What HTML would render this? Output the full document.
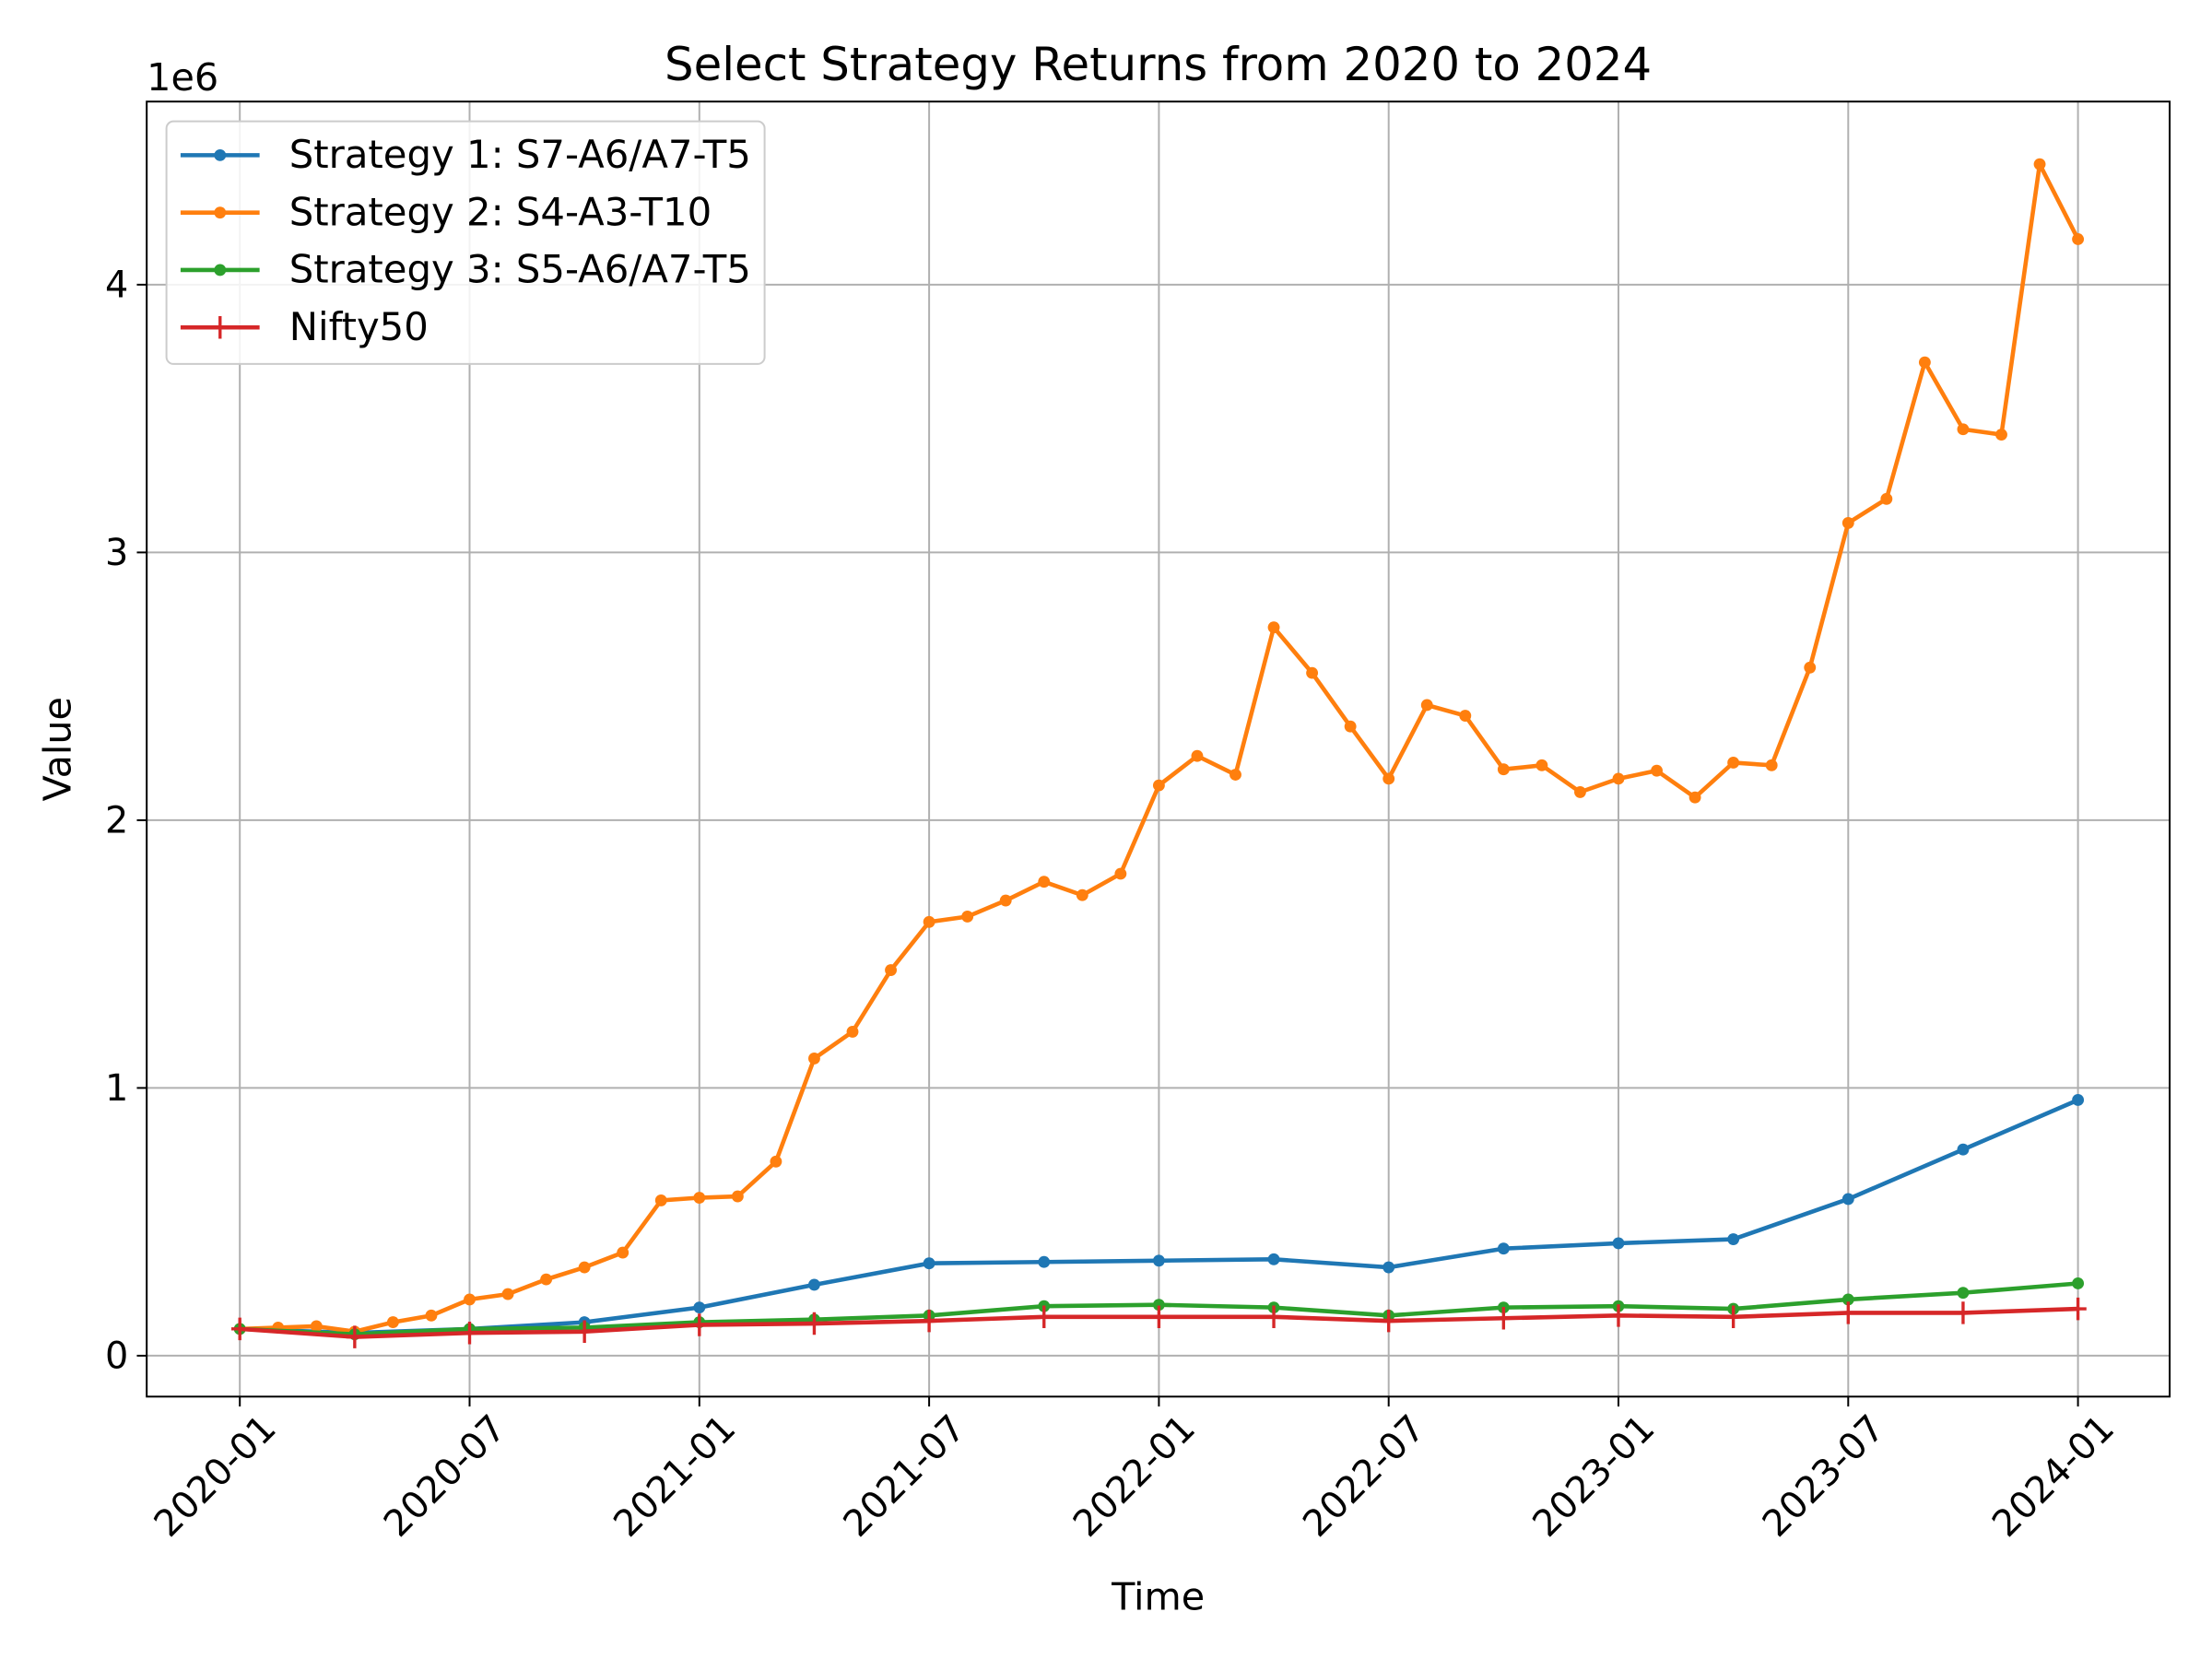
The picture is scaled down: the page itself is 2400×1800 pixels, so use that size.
<!DOCTYPE html>
<html><head><meta charset="utf-8"><style>
html,body{margin:0;padding:0;background:#fff;}
svg{display:block;font-family:"DejaVu Sans","Liberation Sans",sans-serif;}
</style></head><body>
<svg id="chart" width="2400" height="1800" viewBox="0 0 1568 1176" xmlns="http://www.w3.org/2000/svg">
<rect width="1568" height="1176" fill="#fff"/>
<g id="grid"></g>
<g id="series"></g>
<rect x="104" y="72" width="1434" height="918" fill="none" stroke="#000" stroke-width="1.3"/>
<g id="ticks"></g>
<text x="821" y="57" font-size="32.5" text-anchor="middle">Select Strategy Returns from 2020 to 2024</text>
<text x="104" y="64" font-size="27">1e6</text>
<text x="821" y="1141" font-size="27" text-anchor="middle">Time</text>
<text x="0" y="0" font-size="27" text-anchor="middle" transform="translate(50,531) rotate(-90)">Value</text>
<g id="legend"></g>
</svg>
<script>
const monthLabels = ["2020-01","2020-07","2021-01","2021-07","2022-01","2022-07","2023-01","2023-07","2024-01"];
const monthLabelIdx = [0,6,12,18,24,30,36,42,48];
const yTicks = [0,1,2,3,4];
const orangeMonths = [0,1,2,3,4,5,6,7,8,9,10,11,12,13,14,15,16,17,18,19,20,21,22,23,24,25,26,27,28,29,30,31,32,33,34,35,36,37,38,39,40,41,42,43,44,45,46,47,48];
const strategy2 = [0.10,0.105,0.11,0.09,0.125,0.15,0.21,0.23,0.285,0.33,0.385,0.58,0.59,0.595,0.725,1.11,1.21,1.44,1.62,1.64,1.70,1.77,1.72,1.80,2.13,2.24,2.17,2.72,2.55,2.35,2.155,2.43,2.39,2.19,2.205,2.105,2.155,2.185,2.085,2.215,2.205,2.57,3.11,3.20,3.71,3.46,3.44,4.45,4.17];
const quarterMonths = [0,3,6,9,12,15,18,21,24,27,30,33,36,39,42,45,48];
const strategy1 = [0.10,0.085,0.10,0.125,0.18,0.265,0.345,0.35,0.355,0.36,0.33,0.40,0.42,0.435,0.585,0.77,0.955];
const strategy3 = [0.10,0.08,0.10,0.105,0.125,0.135,0.15,0.185,0.19,0.18,0.15,0.18,0.185,0.175,0.21,0.235,0.27];
const nifty50 = [0.10,0.07,0.085,0.09,0.115,0.12,0.13,0.145,0.145,0.145,0.13,0.14,0.15,0.145,0.16,0.16,0.175];
const seriesNames = ["Strategy 1: S7-A6/A7-T5","Strategy 2: S4-A3-T10","Strategy 3: S5-A6/A7-T5","Nifty50"];

const NS="http://www.w3.org/2000/svg";
const X = m => 170 + m*(1473-170)/48;
const Y = v => 961 - v*189.8;
function mk(tag, attrs, parent){const e=document.createElementNS(NS,tag);for(const k in attrs)e.setAttribute(k,attrs[k]);parent.appendChild(e);return e;}
const grid=document.getElementById('grid'), ticks=document.getElementById('ticks'), ser=document.getElementById('series'), leg=document.getElementById('legend');

monthLabelIdx.forEach((m,i)=>{
  const x=X(m);
  const g=mk('line',{x1:x,x2:x,y1:72,y2:990,stroke:'#b0b0b0','stroke-width':1.3},grid);
  
  
  const t=mk('line',{x1:x,x2:x,y1:990,y2:997,stroke:'#000','stroke-width':1.3},ticks);
  
  
  const l=mk('text',{x:0,y:0,'font-size':26,'text-anchor':'end',transform:`translate(${x+27},${1014}) rotate(-45)`},ticks);
  l.textContent=monthLabels[i];
  
  
});
yTicks.forEach(v=>{
  const y=Y(v);
  const g=mk('line',{x1:104,x2:1538,y1:y,y2:y,stroke:'#b0b0b0','stroke-width':1.3},grid);
  
  
  const t=mk('line',{x1:97,x2:104,y1:y,y2:y,stroke:'#000','stroke-width':1.3},ticks);
  
  
  const l=mk('text',{x:91,y:y+9,'font-size':26,'text-anchor':'end'},ticks);
  l.textContent=String(v);
  
  
});

function drawSeries(months, vals, color, marker, name){
  const g=mk('g',{},ser);
  
  
  const pts=months.map((m,i)=>X(m)+','+Y(vals[i])).join(' ');
  mk('polyline',{points:pts,fill:'none',stroke:color,'stroke-width':3,'stroke-linejoin':'round'},g);
  months.forEach((m,i)=>{
    const x=X(m),y=Y(vals[i]);
    if(marker==='dot'){
      const c=mk('circle',{cx:x,cy:y,r:4.2,fill:color},g);
      
      
    } else {
      const p=mk('path',{d:`M${x-6},${y}H${x+6}M${x},${y-8}V${y+8}`,stroke:color,'stroke-width':2.2},g);
      
      
    }
  });
}
drawSeries(quarterMonths,strategy1,'#1f77b4','dot','series-strategy-1');
drawSeries(orangeMonths,strategy2,'#ff7f0e','dot','series-strategy-2');
drawSeries(quarterMonths,strategy3,'#2ca02c','dot','series-strategy-3');
drawSeries(quarterMonths,nifty50,'#d62728','plus','series-nifty50');

const box=mk('rect',{x:118,y:86,width:424,height:172,rx:5,fill:'#fff','fill-opacity':0.85,stroke:'#ccc','stroke-width':1.3},leg);


const colors=['#1f77b4','#ff7f0e','#2ca02c','#d62728'];
seriesNames.forEach((n,i)=>{
  const y=110+i*40.7;
  const g=mk('g',{},leg);
  
  
  mk('line',{x1:128,x2:184,y1:y,y2:y,stroke:colors[i],'stroke-width':3},g);
  if(i<3) mk('circle',{cx:156,cy:y,r:4.2,fill:colors[i]},g);
  else mk('path',{d:`M150,${y}H162M156,${y-8}V${y+8}`,stroke:colors[i],'stroke-width':2.2},g);
  const t=mk('text',{x:205,y:y+9,'font-size':27.3},g);
  t.textContent=n;
});
</script>
</body></html>
